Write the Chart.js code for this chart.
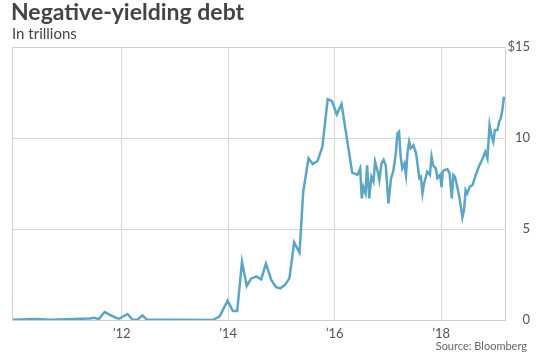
<!DOCTYPE html>
<html>
<head>
<meta charset="utf-8">
<script src="https://cdn.jsdelivr.net/npm/chart.js@4/dist/chart.umd.min.js"></script>
<style>
  html, body { margin: 0; padding: 0; background: #fff; }
  #wrap { position: relative; width: 540px; height: 354px; font-family: Lato, "Open Sans", sans-serif; }
  #title { position: absolute; left: 11px; top: 0px; font-size: 23px; line-height: 23px; font-weight: bold; color: #444; }
  #sub { position: absolute; left: 12px; top: 26px; font-size: 15px; line-height: 15px; color: #444; }
  #source { position: absolute; right: 13px; top: 339px; font-size: 11px; color: #666; }
  canvas { position: absolute; left: 0; top: 0; }
</style>
</head>
<body>
<div id="wrap">
  <canvas id="chart" width="540" height="354"></canvas>
  <div id="title">Negative-yielding debt</div>
  <div id="sub">In trillions</div>
  <div id="source">Source: Bloomberg</div>
</div>
<script>
// ---------- Data (decimal years, trillions of dollars) ----------
const years = [
  2009.96, 2010.41, 2010.65, 2011.40, 2011.49, 2011.57, 2011.68, 2011.78, 2011.91, 2011.96,
  2012.11, 2012.21, 2012.30, 2012.39, 2012.47, 2013.09, 2013.71, 2013.84, 2013.99, 2014.09,
  2014.17, 2014.26, 2014.35, 2014.43, 2014.53, 2014.62, 2014.71, 2014.81, 2014.90, 2014.98,
  2015.07, 2015.15, 2015.24, 2015.34, 2015.41, 2015.51, 2015.59, 2015.68, 2015.77, 2015.87,
  2015.95, 2016.04, 2016.13, 2016.21, 2016.33, 2016.43, 2016.48, 2016.51, 2016.54, 2016.58,
  2016.61, 2016.65, 2016.69, 2016.73, 2016.76, 2016.81, 2016.84, 2016.88, 2016.92, 2016.96,
  2017.01, 2017.06, 2017.10, 2017.15, 2017.18, 2017.21, 2017.24, 2017.27, 2017.31, 2017.34,
  2017.37, 2017.40, 2017.43, 2017.48, 2017.53, 2017.56, 2017.59, 2017.62, 2017.65, 2017.68,
  2017.74, 2017.79, 2017.82, 2017.85, 2017.90, 2017.93, 2017.98, 2018.01, 2018.03, 2018.06,
  2018.12, 2018.16, 2018.20, 2018.23, 2018.26, 2018.31, 2018.34, 2018.37, 2018.40, 2018.43,
  2018.46, 2018.49, 2018.54, 2018.59, 2018.65, 2018.71, 2018.77, 2018.83, 2018.87, 2018.91,
  2018.95, 2018.98, 2019.01, 2019.06, 2019.09, 2019.12, 2019.15, 2019.18
];
const debt = [
  0.02, 0.05, 0.02, 0.08, 0.12, 0.05, 0.44, 0.28, 0.10, 0.08,
  0.33, 0.00, 0.03, 0.25, 0.03, 0.01, 0.00, 0.20, 1.06, 0.49,
  0.49, 3.20, 1.87, 2.27, 2.40, 2.24, 3.10, 2.20, 1.80, 1.74,
  1.94, 2.29, 4.27, 3.70, 7.05, 8.88, 8.57, 8.74, 9.52, 12.14,
  12.03, 11.30, 11.87, 10.35, 8.10, 7.97, 8.33, 6.68, 7.30, 6.96,
  8.50, 6.68, 7.87, 7.60, 8.70, 8.15, 7.70, 8.60, 8.80, 8.50,
  6.40, 7.80, 8.15, 9.16, 10.26, 10.35, 8.97, 8.33, 8.60, 7.97,
  9.25, 9.80, 9.43, 9.60, 9.16, 8.50, 7.80, 7.87, 6.96, 7.50,
  8.15, 7.97, 8.97, 8.50, 8.33, 7.80, 7.97, 7.30, 8.15, 8.24,
  8.28, 8.06, 6.68, 7.97, 7.87, 7.23, 6.78, 6.23, 5.64, 6.04,
  7.14, 6.96, 7.33, 7.42, 7.97, 8.43, 8.80, 9.25, 8.88, 10.71,
  10.07, 9.80, 10.44, 10.44, 10.90, 11.07, 11.54, 12.27
];
const xTicks = [2012, 2014, 2016, 2018];
const yTicks = [0, 5, 10, 15];

// ---------- Chart ----------
const boxPlugin = {
  id: "box",
  beforeDatasetsDraw(chart) {
    const { ctx, chartArea: a } = chart;
    ctx.save();
    ctx.strokeStyle = "#cfcfcf";
    ctx.lineWidth = 1;
    ctx.strokeRect(Math.round(a.left) + 0.5, Math.round(a.top) + 0.5,
      Math.round(a.right - a.left), Math.round(a.bottom - a.top));
    ctx.restore();
  }
};

new Chart(document.getElementById("chart"), {
  type: "line",
  data: {
    datasets: [{
      data: years.map((y, i) => ({ x: y, y: debt[i] })),
      borderColor: "#5ba6c5",
      borderWidth: 2.5,
      pointRadius: 0,
      tension: 0,
      fill: false
    }]
  },
  options: {
    responsive: false,
    animation: false,
    layout: { padding: { left: 12, top: 47, right: 10, bottom: 0 } },
    plugins: { legend: { display: false }, tooltip: { enabled: false } },
    scales: {
      x: {
        type: "linear",
        min: 2009.94,
        max: 2019.2,
        afterBuildTicks: s => { s.ticks = xTicks.map(v => ({ value: v })); },
        afterFit: s => { s.height = 34; },
        grid: { color: "#d6d6d6", drawTicks: false },
        border: { display: false },
        ticks: {
          padding: 6,
          color: "#555",
          font: { family: "Lato", size: 13 },
          callback: v => "\u2019" + String(v).slice(2)
        }
      },
      y: {
        position: "right",
        min: 0,
        max: 15,
        afterBuildTicks: s => { s.ticks = yTicks.map(v => ({ value: v })); },
        afterFit: s => { s.width = 25; },
        grid: { color: "#d6d6d6", drawTicks: false },
        border: { display: false },
        ticks: {
          padding: 3,
          crossAlign: "far",
          color: "#555",
          font: { family: "Lato", size: 13 },
          callback: v => v === 15 ? "$15" : String(v)
        }
      }
    }
  },
  plugins: [boxPlugin]
});
</script>
</body>
</html>
